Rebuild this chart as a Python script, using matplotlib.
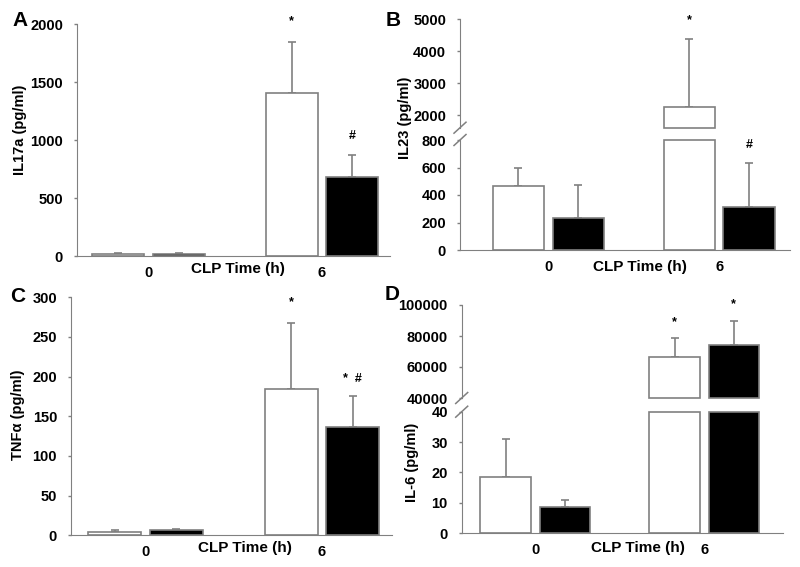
import numpy as np
import matplotlib
matplotlib.use('Agg')
import matplotlib.pyplot as plt
from matplotlib.lines import Line2D

plt.rcParams['font.family'] = ['Liberation Sans', 'DejaVu Sans']
plt.rcParams['font.weight'] = 'bold'
plt.rcParams['font.size'] = 10

# data (CLP time 0 h and 6 h), white and black bars
times = ['0', '6']

il17_white = [17, 1410]
il17_white_err = [7, 440]
il17_black = [18, 685]
il17_black_err = [9, 187]

il23_white = [465, 2260]
il23_white_err = [130, 2115]
il23_black = [235, 310]
il23_black_err = [238, 320]

tnf_white = [4, 185]
tnf_white_err = [2.5, 82]
tnf_black = [7, 136.5]
tnf_black_err = [1.5, 39.5]

il6_white = [18.4, 66450]
il6_white_err = [12.6, 12000]
il6_black = [8.8, 73930]
il6_black_err = [2.3, 16070]

marks_A = ['*', '#']
marks_B = ['*', '#']
marks_C = ['*', '*  #']
marks_D = ['*', '*']

GREY = '#808080'
W = 800.0
H = 567.0
bw = 0.30
off = 0.175
TICK_FS = 10.5

fig = plt.figure(figsize=(8, 5.67), dpi=100)


def px_axes(x0, x1, ytop, ybot):
    return fig.add_axes([x0 / W, 1 - ybot / H, (x1 - x0) / W, (ybot - ytop) / H])


def style(ax, xlim, lower=True):
    ax.set_xlim(*xlim)
    ax.spines['top'].set_visible(False)
    ax.spines['right'].set_visible(False)
    ax.spines['left'].set_color(GREY)
    ax.spines['bottom'].set_color(GREY)
    ax.tick_params(axis='y', length=2, width=1, color=GREY, pad=8, labelsize=TICK_FS)
    if lower:
        ax.set_xticks(np.arange(len(times)))
        ax.set_xticklabels(times)
        ax.tick_params(axis='x', length=0, pad=7, labelsize=TICK_FS)
    else:
        ax.spines['bottom'].set_visible(False)
        ax.set_xticks([])


def draw(ax, vals, errs, face, shift, ymin, ymax, marks=None, mark_off=14):
    x = np.arange(len(vals))
    for i in range(len(vals)):
        v = vals[i]
        if v <= ymin:
            continue
        top = min(v, ymax)
        ax.bar(x[i] + shift, top - ymin, bw, bottom=ymin, color=face,
               edgecolor=GREY, linewidth=1.2, clip_on=False, zorder=2)
        if v <= ymax:
            ax.errorbar(x[i] + shift, v, yerr=[[0], [errs[i]]], fmt='none',
                        ecolor=GREY, elinewidth=1.2, capsize=3, capthick=1.2,
                        zorder=1)
            if marks is not None and marks[i]:
                ax.annotate(marks[i], (x[i] + shift, v + errs[i]),
                            xytext=(0, mark_off), textcoords='offset points',
                            ha='center', va='center', fontsize=9)


def slash(ax, where):
    pos = ax.get_position()
    y = pos.y0 if where == 'bottom' else pos.y1
    dx = 6 / W
    dy = 5.5 / H
    fig.add_artist(Line2D([pos.x0 - dx, pos.x0 + dx], [y - dy, y + dy],
                          transform=fig.transFigure, color=GREY, lw=1.1))


# ---- A: IL17a
axA = px_axes(77, 390, 24.3, 256)
draw(axA, il17_white, il17_white_err, 'white', -off, 0, 2000, [None, marks_A[0]], 15)
draw(axA, il17_black, il17_black_err, 'black', off, 0, 2000, [None, marks_A[1]], 14)
axA.set_ylim(0, 2000)
axA.set_yticks(np.arange(0, 2001, 500))
style(axA, (-0.413, 1.393))
axA.text(0.514, -13 / 231.7, 'CLP Time (h)', transform=axA.transAxes,
         ha='center', va='center', fontsize=11)

# ---- B: IL23 (broken axis)
xlimB = (-0.516, 1.414)
axB_up = px_axes(460, 790, 19.3, 127.7)
axB_lo = px_axes(460, 790, 140, 250)
draw(axB_up, il23_white, il23_white_err, 'white', -off, 1612, 5000, [None, marks_B[0]], 14)
draw(axB_up, il23_black, il23_black_err, 'black', off, 1612, 5000)
draw(axB_lo, il23_white, il23_white_err, 'white', -off, 0, 800)
draw(axB_lo, il23_black, il23_black_err, 'black', off, 0, 800, [None, marks_B[1]], 13)
axB_up.set_ylim(1612, 5000)
axB_up.set_yticks(np.arange(2000, 5001, 1000))
axB_lo.set_ylim(0, 800)
axB_lo.set_yticks(np.arange(0, 801, 200))
style(axB_up, xlimB, lower=False)
style(axB_lo, xlimB)
slash(axB_up, 'bottom')
slash(axB_lo, 'top')
axB_lo.text(0.545, -17 / 110, 'CLP Time (h)', transform=axB_lo.transAxes,
            ha='center', va='center', fontsize=11)

# ---- C: TNFa
axC = px_axes(71, 392, 297.3, 535.3)
draw(axC, tnf_white, tnf_white_err, 'white', -off, 0, 300, [None, marks_C[0]], 15)
draw(axC, tnf_black, tnf_black_err, 'black', off, 0, 300, [None, marks_C[1]], 12)
axC.set_ylim(0, 300)
axC.set_yticks(np.arange(0, 301, 50))
style(axC, (-0.422, 1.397))
axC.text(0.542, -13 / 238, 'CLP Time (h)', transform=axC.transAxes,
         ha='center', va='center', fontsize=11)

# ---- D: IL-6 (broken axis)
xlimD = (-0.436, 1.466)
axD_up = px_axes(461.7, 783, 305, 398)
axD_lo = px_axes(461.7, 783, 411.7, 533.3)
draw(axD_up, il6_white, il6_white_err, 'white', -off, 40000, 100000, [None, marks_D[0]], 12)
draw(axD_up, il6_black, il6_black_err, 'black', off, 40000, 100000, [None, marks_D[1]], 12)
draw(axD_lo, il6_white, il6_white_err, 'white', -off, 0, 40)
draw(axD_lo, il6_black, il6_black_err, 'black', off, 0, 40)
axD_up.set_ylim(40000, 100000)
axD_up.set_yticks(np.arange(40000, 100001, 20000))
axD_lo.set_ylim(0, 40)
axD_lo.set_yticks(np.arange(0, 41, 10))
style(axD_up, xlimD, lower=False)
style(axD_lo, xlimD)
slash(axD_up, 'bottom')
slash(axD_lo, 'top')
axD_lo.text(0.549, -15 / 121.6, 'CLP Time (h)', transform=axD_lo.transAxes,
            ha='center', va='center', fontsize=11)

# y labels and panel letters
fig.text(20 / W, 1 - 130 / H, 'IL17a (pg/ml)', rotation=90, ha='center', va='center', fontsize=10.5)
fig.text(405 / W, 1 - 118 / H, 'IL23 (pg/ml)', rotation=90, ha='center', va='center', fontsize=10.5)
fig.text(18 / W, 1 - 415 / H, 'TNF\u03b1 (pg/ml)', rotation=90, ha='center', va='center', fontsize=10.5)
fig.text(412 / W, 1 - 462 / H, 'IL-6 (pg/ml)', rotation=90, ha='center', va='center', fontsize=10.5)

for letter, px, py in [('A', 20, 20), ('B', 393, 20), ('C', 18, 296), ('D', 392, 295)]:
    fig.text(px / W, 1 - py / H, letter, ha='center', va='center', fontsize=15)

fig.savefig('out.png', dpi=100)
